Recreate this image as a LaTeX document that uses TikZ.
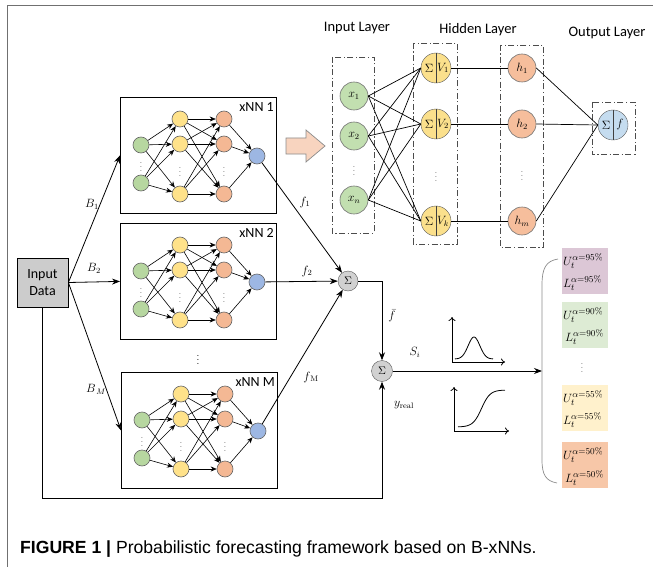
\documentclass[tikz,border=0pt]{standalone}
\usepackage{fontspec}
\newfontfamily\calibrifont{Carlito}
\newfontfamily\capfont{Liberation Sans}
\usetikzlibrary{arrows.meta,calc}
\definecolor{ngreen}{HTML}{B7D7A0}
\definecolor{nyellow}{HTML}{FFE28A}
\definecolor{norange}{HTML}{F4B894}
\definecolor{nblue}{HTML}{9DB7E3}
\definecolor{rgreen}{HTML}{C2DFB0}
\definecolor{ryellow}{HTML}{FBE08C}
\definecolor{rorange}{HTML}{F6BE9C}
\definecolor{rblue}{HTML}{C5DCEF}
\definecolor{bpurple}{HTML}{DCC7D6}
\definecolor{bgreen}{HTML}{DDEBD4}
\definecolor{byellow}{HTML}{FFF1CC}
\definecolor{borange}{HTML}{F7C7A8}
\definecolor{framegray}{HTML}{707070}
\newcommand\xnnet[4]{%
  \node[draw, line width=0.8pt, minimum width=156pt, minimum height=116pt, anchor=north west, inner sep=0] (#1) at (#2,#3) {};
  \node[sn, fill=ngreen] (#1g1) at ({#2+21},{#3+48}) {};
  \node[sn, fill=ngreen] (#1g2) at ({#2+21},{#3+86}) {};
  \node[sn, fill=nyellow] (#1y1) at ({#2+60},{#3+22}) {};
  \node[sn, fill=nyellow] (#1y2) at ({#2+60},{#3+47}) {};
  \node[sn, fill=nyellow] (#1y3) at ({#2+60},{#3+97}) {};
  \node[sn, fill=norange] (#1o1) at ({#2+104},{#3+22}) {};
  \node[sn, fill=norange] (#1o2) at ({#2+104},{#3+47}) {};
  \node[sn, fill=norange] (#1o3) at ({#2+104},{#3+97}) {};
  \node[sn, fill=nblue] (#1b) at ({#2+137},{#3+59}) {};
  \node[dotlab] (#1dg) at ({#2+21},{#3+67}) {$\vdots$};
  \node[dotlab] (#1dy) at ({#2+60},{#3+72}) {$\vdots$};
  \node[dotlab] (#1do) at ({#2+104},{#3+72}) {$\vdots$};
  \node[anchor=north east, inner sep=1pt, font=\calibrifont\fontsize{14}{16}\selectfont] (#1lab) at ({#2+155},{#3+4}) {#4};
  \foreach \a in {g1,g2} \foreach \b in {y1,y2,y3} \draw[sarr] (#1\a) -- (#1\b);
  \foreach \a in {y1,y2,y3} \foreach \b in {o1,o2,o3} \draw[sarr] (#1\a) -- (#1\b);
  \foreach \a in {o1,o2,o3} \draw[sarr] (#1\a) -- (#1b);
}
\newcommand\sumnode[5]{% name, x, y, fill, right text
  \node[circle, draw=black!65, fill=#4, minimum size=30pt, inner sep=0] (#1) at (#2,#3) {};
  \draw[black!75, line width=0.7pt] (#1.north) -- (#1.south);
  \node[inner sep=0, font=\fontsize{13}{14}\selectfont] (#1s) at ({#2-7},#3) {$\Sigma$};
  \node[inner sep=0, font=\fontsize{12}{14}\selectfont] (#1v) at ({#2+7},#3) {#5};
}
\begin{document}
\begin{tikzpicture}[x=1pt, y=-1pt,
  sn/.style={circle, draw=black!60, line width=0.6pt, minimum size=16pt, inner sep=0},
  rn/.style={circle, draw=black!55, line width=0.6pt, minimum size=28pt, inner sep=0, font=\fontsize{12}{14}\selectfont},
  sarr/.style={-{Stealth[length=6pt,width=5pt]}, line width=0.6pt},
  arr/.style={-{Stealth[length=8pt,width=6pt]}, line width=0.8pt},
  dotlab/.style={inner sep=0, font=\fontsize{8}{9}\selectfont},
  ddbox/.style={draw=black!70, line width=0.8pt, dash pattern=on 6pt off 2.5pt on 1.2pt off 2.5pt},
  mlab/.style={inner sep=1pt, font=\fontsize{12}{14}\selectfont},
  laylab/.style={inner sep=0, font=\calibrifont\fontsize{14.5}{16}\selectfont},
  pbox/.style={minimum width=46pt, minimum height=46pt, anchor=north west, inner sep=0},
  ptxt/.style={anchor=west, inner sep=0, font=\fontsize{13}{15}\selectfont}
]
\useasboundingbox (0,0) rectangle (653,567);
\fill[white] (0,0) rectangle (653,567);
% frame
\draw[framegray, line width=1pt] (7,567) -- (7,6) -- (653,6);

% xNN boxes
\xnnet{A}{120}{97}{xNN 1}
\xnnet{B}{120}{223}{xNN 2}
\xnnet{C}{121}{372}{xNN M}
\node[dotlab, font=\fontsize{10}{11}\selectfont] (boxdots) at (198,357) {$\vdots$};

% input data
\node[draw, line width=0.8pt, fill=black!20, minimum width=51pt, minimum height=49pt, inner sep=0, align=center,
  font=\calibrifont\fontsize{14}{17}\selectfont] (in) at (42.5,282.5) {Input\\Data};
\draw[arr] (in.east) -- (A.west);
\draw[arr] (in.east) -- (B.west);
\draw[arr] (in.east) -- (C.west);
\node[mlab] (lb1) at (92,204) {$B_1$};
\node[mlab] (lb2) at (94,268) {$B_2$};
\node[mlab] (lbm) at (96,389) {$B_{\,M}$};

% sum nodes
\node[circle, draw=black!65, fill=black!18, minimum size=20pt, inner sep=0, font=\fontsize{11}{12}\selectfont] (s1) at (348,281) {$\Sigma$};
\node[circle, draw=black!65, fill=black!18, minimum size=21pt, inner sep=0, font=\fontsize{11}{12}\selectfont] (s2) at (382,371) {$\Sigma$};
\draw[arr] (Ab) -- (s1);
\draw[arr] (Bb) -- (s1);
\draw[arr] (Cb) -- (s1);
\node[mlab] (lf1) at (305,202) {$f_1$};
\node[mlab] (lf2) at (307,271) {$f_2$};
\node[mlab] (lfm) at (311,377) {$f_{\,\mathrm{M}}$};
\draw[arr] (s1.east) -| (s2.north);
\coordinate (low) at (382,498);
\draw[arr] (in.south) |- (low) -- (s2.south);
\node[mlab] (lfbar) at (392,316) {$\bar{f}$};
\node[mlab] (lsi) at (415,352) {$S_i$};
\node[mlab] (lyr) at (404,405) {$y_{\mathrm{real}}$};
\coordinate (bmid) at (542,371);
\draw[arr] (s2.east) -- (bmid);

% brace
\draw[black!45, line width=0.7pt] (558,259) .. controls (546,261) and (542,268) .. (542,285) -- (542,460) .. controls (542,475) and (546,481) .. (557,483);

% plots
\draw[-{To[length=4pt,width=7pt]}, line width=0.8pt] (452,362) -- (452,317);
\draw[-{To[length=4pt,width=7pt]}, line width=0.8pt] (452,362) -- (505,362);
\draw[line width=0.8pt, domain=-1:1, samples=50, smooth] plot ({474+19*\x}, {359-22*exp(-(2.3*\x)^2)});
\draw[-{To[length=4pt,width=7pt]}, line width=0.8pt] (454,431) -- (454,387);
\draw[-{To[length=4pt,width=7pt]}, line width=0.8pt] (454,431) -- (509,431);
\draw[line width=0.8pt, domain=0:1, samples=50, smooth] plot ({458+47*\x}, {427-37/(1+exp(-11*(\x-0.5)))});

% big arrow
\draw[black!45, fill=norange!60, line width=0.7pt] (286,138) -- (306,138) -- (306,130) -- (325,146) -- (306,162) -- (306,154) -- (286,154) -- cycle;

% layer labels
\node[laylab] (lin) at (357,28) {Input Layer};
\node[laylab] (lhid) at (478,30) {Hidden Layer};
\node[laylab] (lout) at (607,33) {Output Layer};

% dash-dot boxes
\draw[ddbox] (332,57) rectangle (374,233);
\draw[ddbox] (413,43) rectangle (457,244);
\draw[ddbox] (500,45) rectangle (543,247);
\draw[ddbox] (592,102) rectangle (635,154);

% nodes
\node[rn, fill=rgreen] (x1) at (354,96) {$x_1$};
\node[rn, fill=rgreen] (x2) at (354,136) {$x_2$};
\node[rn, fill=rgreen] (xn) at (354,200) {$x_n$};
\node[dotlab] (xd) at (354,168) {$\vdots$};
\sumnode{v1}{436}{68}{ryellow}{$V_1$}
\sumnode{v2}{436}{124}{ryellow}{$V_2$}
\sumnode{vk}{436}{221}{ryellow}{$V_k$}
\node[dotlab] (vd) at (436,174) {$\vdots$};
\node[rn, fill=rorange] (h1) at (522,68) {$h_1$};
\node[rn, fill=rorange] (h2) at (522,124) {$h_2$};
\node[rn, fill=rorange] (hm) at (522,221) {$h_m$};
\node[dotlab] (hd) at (522,173) {$\vdots$};
\sumnode{o}{613}{125}{rblue}{$f$}
\foreach \a in {x1,x2,xn} \foreach \b in {v1,v2,vk} \draw[line width=0.7pt] (\a.east) -- (\b.west);
\draw[line width=0.7pt] (v1.east) -- (h1.west);
\draw[line width=0.7pt] (v2.east) -- (h2.west);
\draw[line width=0.7pt] (vk.east) -- (hm.west);
\foreach \a in {h1,h2,hm} \draw[line width=0.7pt] (\a.east) -- (o.west);

% probability boxes
\node[pbox, fill=bpurple] (p95) at (562,248) {};
\node[ptxt] (u95) at (563,261) {$U_t^{\alpha=95\%}$};
\node[ptxt] (l95) at (563,283) {$L_t^{\alpha=95\%}$};
\node[pbox, fill=bgreen] (p90) at (562,302) {};
\node[ptxt] (u90) at (563,315) {$U_t^{\alpha=90\%}$};
\node[ptxt] (l90) at (565,337) {$L_t^{\alpha=90\%}$};
\node[dotlab] (pd) at (582,365) {$\vdots$};
\node[pbox, fill=byellow] (p55) at (562,385) {};
\node[ptxt] (u55) at (563,398) {$U_t^{\alpha=55\%}$};
\node[ptxt] (l55) at (563,420) {$L_t^{\alpha=55\%}$};
\node[pbox, fill=borange] (p50) at (562,442) {};
\node[ptxt] (u50) at (563,455) {$U_t^{\alpha=50\%}$};
\node[ptxt] (l50) at (565,478) {$L_t^{\alpha=50\%}$};

% caption
\node[anchor=base west, inner sep=0, font=\capfont\fontsize{17.6}{20}\selectfont] (cap) at (20,553)
  {\textbf{FIGURE 1 |} Probabilistic forecasting framework based on B-xNNs.};
\end{tikzpicture}
\end{document}
